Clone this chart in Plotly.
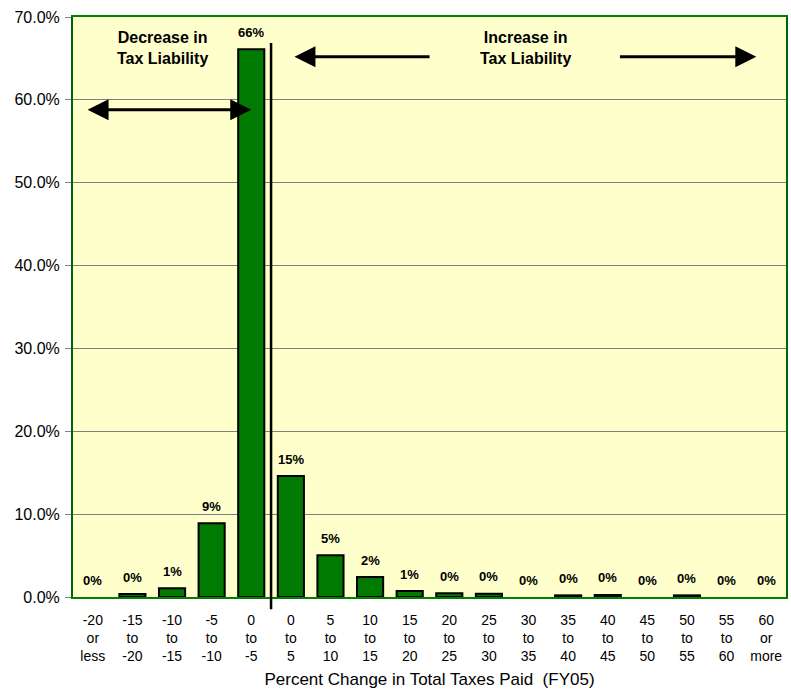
import plotly.graph_objects as go

# Distribution of filers by percent change in total taxes paid (FY05)
bin_labels = [
    "-20<br>or<br>less", "-15<br>to<br>-20", "-10<br>to<br>-15", "-5<br>to<br>-10",
    "0<br>to<br>-5", "0<br>to<br>5", "5<br>to<br>10", "10<br>to<br>15",
    "15<br>to<br>20", "20<br>to<br>25", "25<br>to<br>30", "30<br>to<br>35",
    "35<br>to<br>40", "40<br>to<br>45", "45<br>to<br>50", "50<br>to<br>55",
    "55<br>to<br>60", "60<br>or<br>more",
]
share_pct = [0.0, 0.35, 1.05, 8.9, 66.1, 14.6, 5.05, 2.4, 0.72,
             0.45, 0.4, 0.0, 0.2, 0.25, 0.0, 0.2, 0.0, 0.0]
y_ticks = [0, 10, 20, 30, 40, 50, 60, 70]

FONT = "Arial, Liberation Sans, sans-serif"
positions = list(range(len(bin_labels)))

fig = go.Figure()
fig.add_trace(go.Bar(
    x=positions,
    y=share_pct,
    width=0.66,
    marker=dict(color="#007A00",
                line=dict(color="black",
                          width=[2 if v > 0 else 0 for v in share_pct])),
    showlegend=False,
))

# Value labels above each bar
for xi, v in zip(positions, share_pct):
    fig.add_annotation(x=xi, y=v, xref="x", yref="y", showarrow=False,
                       text=f"{round(v):.0f}%", yshift=17,
                       font=dict(family=FONT, size=13, color="black",
                                 weight="bold"))

# Divider between decreases and increases
fig.add_shape(type="line", xref="x", yref="paper", x0=4.5, x1=4.5,
              y0=-0.021, y1=0.955, line=dict(color="black", width=2.5))

arrow_style = dict(showarrow=True, arrowhead=2, arrowsize=1.4, arrowwidth=3,
                   arrowcolor="black", text="", xref="x", yref="y",
                   axref="x", ayref="y")
# Double-headed arrow over the decrease region
fig.add_annotation(x=4.0, y=58.8, ax=-0.17, ay=58.8, arrowside="end+start",
                   startarrowhead=2, startarrowsize=1.4, **arrow_style)
# Arrows flanking the increase label
fig.add_annotation(x=5.09, y=65.2, ax=8.54, ay=65.2, **arrow_style)
fig.add_annotation(x=16.75, y=65.2, ax=13.27, ay=65.2, **arrow_style)

label_font = dict(family=FONT, size=16, color="black", weight="bold")
fig.add_annotation(x=1.77, y=66.3, xref="x", yref="y", showarrow=False,
                   text="Decrease in<br>Tax Liability", font=label_font)
fig.add_annotation(x=10.93, y=66.3, xref="x", yref="y", showarrow=False,
                   text="Increase in<br>Tax Liability", font=label_font)

fig.update_layout(
    width=791, height=691,
    margin=dict(l=73, r=3, t=17, b=94),
    paper_bgcolor="white",
    plot_bgcolor="#FFFFCC",
    font=dict(family=FONT, color="black"),
)
fig.update_xaxes(
    range=[-0.5, len(bin_labels) - 0.5],
    tickmode="array", tickvals=positions, ticktext=bin_labels,
    tickfont=dict(size=14), ticks="", showgrid=False, ticklabelstandoff=9,
    showline=True, linecolor="#008000", linewidth=2, mirror=True,
    title=dict(text="Percent Change in Total Taxes Paid  (FY05)",
               font=dict(size=17), standoff=10),
    zeroline=False,
)
fig.update_yaxes(
    range=[0, 70], tickmode="array", tickvals=y_ticks,
    ticktext=[f"{v:.1f}%" for v in y_ticks],
    tickfont=dict(size=16), ticks="outside", ticklen=6, tickcolor="#808080",
    ticklabelstandoff=2,
    showgrid=True, gridcolor="#808080", gridwidth=1,
    showline=True, linecolor="#006400", linewidth=2, mirror=True,
    zeroline=False,
)

fig.write_html("out.html")
